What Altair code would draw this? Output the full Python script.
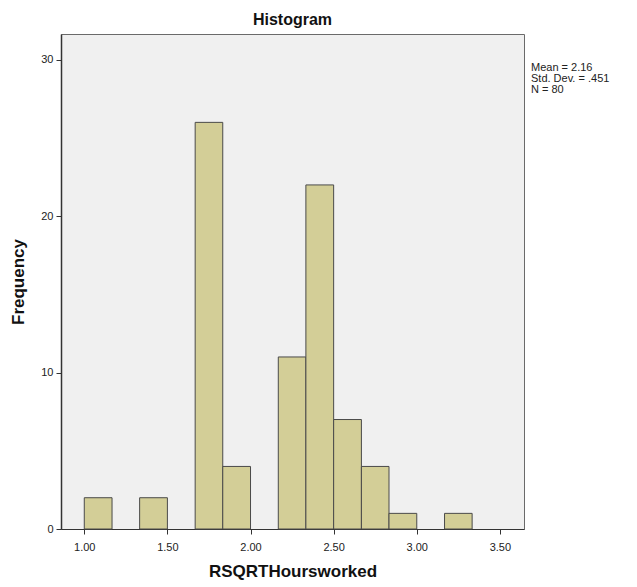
import altair as alt
import pandas as pd

# Histogram bins (lower / upper edges) and frequencies
bin_low = [1.000, 1.333, 1.667, 1.833, 2.167, 2.333, 2.500, 2.667, 2.833, 3.167]
bin_high = [1.167, 1.500, 1.833, 2.000, 2.333, 2.500, 2.667, 2.833, 3.000, 3.333]
counts = [2, 2, 26, 4, 11, 22, 7, 4, 1, 1]

x_ticks = [1.0, 1.5, 2.0, 2.5, 3.0, 3.5]
y_ticks = [0, 10, 20, 30]
x_domain = [0.86, 3.645]
y_domain = [0, 31.65]

stats_lines = ["Mean = 2.16", "Std. Dev. = .451", "N = 80"]

FONT = "Liberation Sans"

df = pd.DataFrame({"lo": bin_low, "hi": bin_high, "n": counts})

bars = alt.Chart(df).mark_rect(
    fill="#D3CE97", stroke="#4a4a4a", strokeWidth=1
).encode(
    x=alt.X(
        "lo:Q",
        scale=alt.Scale(domain=x_domain, nice=False, zero=False),
        axis=alt.Axis(
            values=x_ticks, format=".2f", title="RSQRTHoursworked",
            grid=False, tickSize=5, labelPadding=7, titlePadding=11,
            domainColor="#333333", tickColor="#333333",
        ),
    ),
    x2="hi:Q",
    y=alt.Y(
        "n:Q",
        scale=alt.Scale(domain=y_domain, nice=False),
        axis=alt.Axis(
            values=y_ticks, format="d", title="Frequency",
            grid=False, tickSize=5, labelPadding=3, titlePadding=13,
            domainColor="#333333", tickColor="#333333", domainWidth=1.5,
        ),
    ),
    y2=alt.datum(0),
)

stats = alt.Chart(pd.DataFrame({"t": ["\n".join(stats_lines)]})).mark_text(
    align="left", baseline="top", font=FONT, fontSize=11, lineHeight=11,
    color="#222222", lineBreak="\n",
).encode(
    x=alt.value(470),
    y=alt.value(28),
    text="t:N",
)

chart = (bars + stats).properties(
    width=463,
    height=495,
    background="white",
    title=alt.TitleParams(
        "Histogram", font=FONT, fontSize=16, fontWeight="bold",
        color="#111111", anchor="middle", offset=6,
    ),
    autosize=alt.AutoSizeParams(type="none"),
    padding={"left": 61, "top": 34, "right": 113, "bottom": 58},
).configure_view(
    fill="#F0F0F0", stroke="#6a6a6a", strokeWidth=1,
).configure_axis(
    labelFont=FONT, labelFontSize=11, labelColor="#222222",
    titleFont=FONT, titleFontSize=17, titleFontWeight="bold", titleColor="#111111",
)

chart.save("out.html", embed_options={"renderer": "svg", "actions": False})
